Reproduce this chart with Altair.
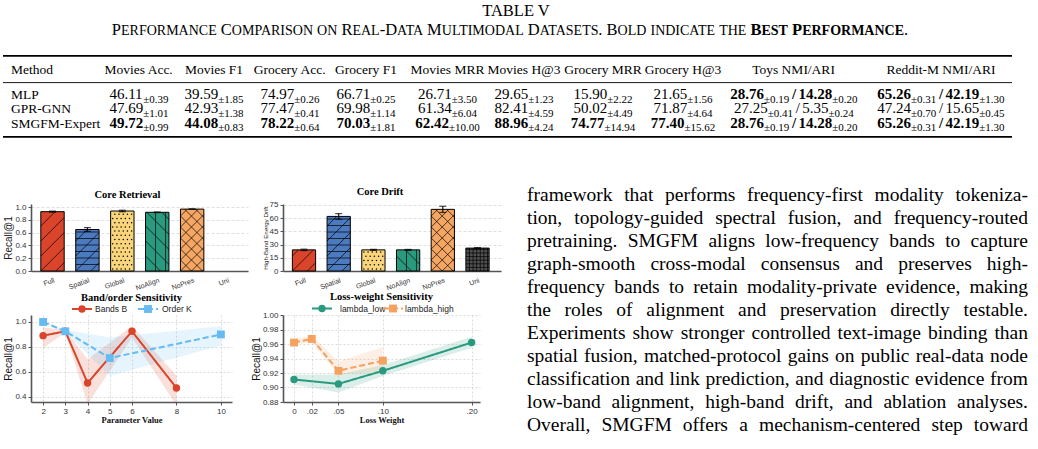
import math
import altair as alt
import pandas as pd

SERIF = "Liberation Serif"
SANS = "Liberation Sans"
PAGE_W = 1038
TABLE_H = 204

# ---------------------------------------------------------------- Table V
table_caption = "TABLE V"
table_subtitle = "Performance Comparison on Real-Data Multimodal Datasets. Bold indicate the "
table_subtitle_bold = "Best Performance"

methods = ["MLP", "GPR-GNN", "SMGFM-Expert"]
metric_cols = ["Movies Acc.", "Movies F1", "Grocery Acc.", "Grocery F1",
               "Movies MRR", "Movies H@3", "Grocery MRR", "Grocery H@3"]
cluster_cols = ["Toys NMI/ARI", "Reddit-M NMI/ARI"]

mlp_mean = [46.11, 39.59, 74.97, 66.71, 26.71, 29.65, 15.90, 21.65]
mlp_std = [0.39, 1.85, 0.26, 0.25, 3.50, 1.23, 2.22, 1.56]
gpr_mean = [47.69, 42.93, 77.47, 69.98, 61.34, 82.41, 50.02, 71.87]
gpr_std = [1.01, 1.38, 0.41, 1.14, 6.04, 4.59, 4.49, 4.64]
smg_mean = [49.72, 44.08, 78.22, 70.03, 62.42, 88.96, 74.77, 77.40]
smg_std = [0.99, 0.83, 0.64, 1.81, 10.00, 4.24, 14.94, 15.62]

# clustering cells: NMI, NMI std, ARI, ARI std
mlp_toys = [28.76, 0.19, 14.28, 0.20]
mlp_reddit = [65.26, 0.31, 42.19, 1.30]
gpr_toys = [27.25, 0.41, 5.35, 0.24]
gpr_reddit = [47.24, 0.70, 15.65, 0.45]
smg_toys = [28.76, 0.19, 14.28, 0.20]
smg_reddit = [65.26, 0.31, 42.19, 1.30]

# ---------------------------------------------------------------- bar panels
variants = ["Full", "Spatial", "Global", "NoAlign", "NoPres", "Uni"]
variant_colors = ["#d9442b", "#4c7abf", "#fad57c", "#2a9a7f", "#f5a663", "#505050"]
variant_hatch = ["/", "-/", ".", "\\|", "x", "+"]
retrieval_mean = [0.93, 0.65, 0.94, 0.92, 0.97, None]
retrieval_err = [0.008, 0.03, 0.012, 0.004, 0.003, None]
drift_mean = [24.0, 62.0, 24.0, 24.0, 70.0, 26.0]
drift_err = [0.8, 3.2, 0.6, 0.5, 3.5, 0.6]

# ---------------------------------------------------------------- sensitivity panels
bands_x = [2, 3, 4, 6, 8]
bands_recall = [0.89, 0.925, 0.51, 0.925, 0.47]
bands_lo = [0.79, 0.915, 0.34, 0.875, 0.33]
bands_hi = [0.955, 0.935, 0.70, 0.968, 0.57]
order_x = [2, 3, 5, 10]
order_recall = [1.0, 0.925, 0.71, 0.90]
order_lo = [0.995, 0.915, 0.565, 0.81]
order_hi = [1.0, 0.935, 0.875, 0.965]

low_w = [0.0, 0.05, 0.10, 0.20]
low_recall = [0.911, 0.905, 0.923, 0.962]
low_lo = [0.904, 0.893, 0.916, 0.955]
low_hi = [0.918, 0.918, 0.931, 0.970]
high_w = [0.0, 0.02, 0.05, 0.10]
high_recall = [0.962, 0.967, 0.923, 0.937]
high_lo = [0.959, 0.962, 0.918, 0.922]
high_hi = [0.966, 0.972, 0.936, 0.956]

# ---------------------------------------------------------------- body text
paragraph_lines = [
    "framework that performs frequency-first modality tokeniza-",
    "tion, topology-guided spectral fusion, and frequency-routed",
    "pretraining. SMGFM aligns low-frequency bands to capture",
    "graph-smooth cross-modal consensus and preserves high-",
    "frequency bands to retain modality-private evidence, making",
    "the roles of alignment and preservation directly testable.",
    "Experiments show stronger controlled text-image binding than",
    "spatial fusion, matched-protocol gains on public real-data node",
    "classification and link prediction, and diagnostic evidence from",
    "low-band alignment, high-band drift, and ablation analyses.",
    "Overall, SMGFM offers a mechanism-centered step toward",
]

# ---------------------------------------------------------------- text metrics
_LOWER = "abcdefghijklmnopqrstuvwxyz"
_UPPER = "ABCDEFGHIJKLMNOPQRSTUVWXYZ"
REG = dict(zip(_LOWER, [444, 500, 444, 500, 444, 333, 500, 500, 278, 278, 500, 278, 778,
                        500, 500, 500, 500, 333, 389, 278, 500, 500, 722, 500, 500, 444]))
REG.update(zip(_UPPER, [722, 667, 667, 722, 611, 556, 722, 722, 333, 389, 722, 611, 889,
                        722, 722, 556, 722, 667, 556, 611, 722, 722, 944, 722, 722, 611]))
BOLD = dict(zip(_LOWER, [500, 556, 444, 556, 444, 333, 500, 556, 278, 333, 556, 278, 833,
                         556, 500, 556, 556, 444, 389, 333, 556, 500, 722, 500, 500, 444]))
BOLD.update(zip(_UPPER, [722, 667, 722, 722, 667, 611, 778, 778, 389, 500, 778, 667, 944,
                         722, 778, 611, 778, 722, 556, 667, 722, 722, 1000, 722, 722, 667]))
for _t in (REG, BOLD):
    _t.update({d: 500 for d in "0123456789"})
    _t.update({" ": 250, ".": 250, ",": 250, "-": 333, "/": 278, ":": 278,
               "@": 921, "(": 333, ")": 333})
REG["±"] = 564
BOLD["±"] = 570
# pair kerning used by the browser for capitals (1/1000 em)
KERN = {"AT": -111, "TA": -93, "AV": -135, "VA": -135, "LT": -92, "PA": -92, "RT": -60}


def text_w(s, size, bold=False):
    t = BOLD if bold else REG
    w = sum(t.get(c, 500) for c in s)
    w += sum(KERN.get(s[i:i + 2], 0) for i in range(len(s) - 1))
    return w * size / 1000.0


# ---------------------------------------------------------------- table layout
CAP_SIZE, SC_SIZE = 16.5, 14.0
HEAD_SIZE = 13.5
NUM_SIZE, SUB_SIZE, SUB_DY = 15.0, 11.0, 3.5
SLASH_PAD = 2.5
col_x = [139, 214, 290, 366, 447.5, 524, 603, 683, 794, 941]
row_y = [99, 113.3, 127.7]
head_y = 73.5
rule_x = (3, 1012)
rules = [(55.8, 1.8), (82.6, 0.9), (136.9, 1.8)]

pieces = []


def place(runs, x, y, anchor="left"):
    """Lay runs of text side by side; runs are (text, size, bold, dy, [extra gap])."""
    def adv(run):
        return text_w(run[0], run[1], run[2]) + (run[4] if len(run) > 4 else 0.0)

    total = sum(adv(r) for r in runs)
    if anchor == "center":
        x -= total / 2
    for run in runs:
        t, s, b, dy = run[:4]
        pad = (run[4] if len(run) > 4 else 0.0) / 2
        body = t.strip(" ")
        if body:
            lead = len(t) - len(t.lstrip(" "))
            pieces.append({"text": body, "x": x + pad + text_w(t[:lead], s, b),
                           "y": y + dy, "size": s, "bold": b})
        x += adv(run)


def small_caps(text, bold):
    runs = []
    for ch in text:
        size = SC_SIZE if ch.islower() else CAP_SIZE
        if runs and runs[-1][1] == size:
            runs[-1] = (runs[-1][0] + ch.upper(), size, bold, 0)
        else:
            runs.append((ch.upper(), size, bold, 0))
    return runs


place([(table_caption, CAP_SIZE, False, 0)], 516, 16, "center")
place(small_caps(table_subtitle, False) + small_caps(table_subtitle_bold, True)
      + small_caps(".", False), 510, 35, "center")

place([("Method", HEAD_SIZE, False, 0)], 11, head_y)
for name, cx in zip(metric_cols + cluster_cols, col_x):
    place([(name, HEAD_SIZE, False, 0)], cx, head_y, "center")


def cell(mean, std, bold):
    return [(f"{mean:.2f}", NUM_SIZE, bold, 0), (f"±{std:.2f}", SUB_SIZE, False, SUB_DY)]


all_mean = [mlp_mean, gpr_mean, smg_mean]
all_std = [mlp_std, gpr_std, smg_std]
all_cluster = [[mlp_toys, mlp_reddit], [gpr_toys, gpr_reddit], [smg_toys, smg_reddit]]
best = [max(col) for col in zip(*all_mean)]
best_nmi = [max(r[j][0] for r in all_cluster) for j in range(2)]
best_ari = [max(r[j][2] for r in all_cluster) for j in range(2)]

for r, m in enumerate(methods):
    y = row_y[r]
    place([(m, HEAD_SIZE, False, 0)], 11, y)
    for j in range(len(metric_cols)):
        mu = all_mean[r][j]
        place(cell(mu, all_std[r][j], mu == best[j]), col_x[j], y, "center")
    for j, c in enumerate(all_cluster[r]):
        b1, b2 = c[0] == best_nmi[j], c[2] == best_ari[j]
        runs = (cell(c[0], c[1], b1) + [("/", NUM_SIZE, b1 and b2, 0, 2 * SLASH_PAD)]
                + cell(c[2], c[3], b2))
        place(runs, col_x[8 + j], y, "center")

pieces_df = pd.DataFrame(pieces)
rules_df = pd.DataFrame({"x0": [rule_x[0]] * 3, "x1": [rule_x[1]] * 3,
                         "y": [r[0] for r in rules], "w": [r[1] for r in rules]})

tx = alt.Scale(domain=[0, PAGE_W], nice=False, zero=False)
ty = alt.Scale(domain=[TABLE_H, 0], nice=False, zero=False)


def table_text(df, weight):
    return alt.Chart(df).mark_text(
        align="left", baseline="alphabetic", font=SERIF, fontWeight=weight, color="black"
    ).encode(
        x=alt.X("x:Q", scale=tx, axis=None),
        y=alt.Y("y:Q", scale=ty, axis=None),
        text="text:N",
        size=alt.Size("size:Q", scale=None, legend=None),
    )


table_rules = alt.Chart(rules_df).mark_rule(color="black").encode(
    x=alt.X("x0:Q", scale=tx, axis=None), x2="x1:Q",
    y=alt.Y("y:Q", scale=ty, axis=None),
    size=alt.Size("w:Q", scale=None, legend=None),
)
table_chart = alt.layer(
    table_rules,
    table_text(pieces_df[~pieces_df["bold"]], "normal"),
    table_text(pieces_df[pieces_df["bold"]], "bold"),
).properties(width=PAGE_W, height=TABLE_H)

# ---------------------------------------------------------------- grid geometry (px)
COL_W = [31, 217, 35, 218, 9]        # spacer, left panels, gap, right panels, gap
ROW_H = [67, 87]
ROW_GAP = 44
PARA_VIEW_X = sum(COL_W)
PARA_VIEW_Y = TABLE_H

# ---------------------------------------------------------------- body paragraph
PARA_SIZE, PARA_LEFT, PARA_RIGHT = 19.5, 527, 1028
PARA_BASE, PARA_LEAD = 201, 23

para_words = []
for k, line in enumerate(paragraph_lines):
    words = line.split(" ")
    widths = [text_w(w, PARA_SIZE) for w in words]
    gap = (PARA_RIGHT - PARA_LEFT - sum(widths)) / (len(words) - 1)
    x = PARA_LEFT
    for w, wd in zip(words, widths):
        para_words.append({"word": w, "x": x, "y": PARA_BASE + k * PARA_LEAD})
        x += wd + gap

para_chart = alt.Chart(pd.DataFrame(para_words)).mark_text(
    align="left", baseline="alphabetic", font=SERIF, fontSize=PARA_SIZE, color="black"
).encode(
    x=alt.X("x:Q", scale=alt.Scale(domain=[PARA_VIEW_X, PAGE_W], nice=False, zero=False), axis=None),
    y=alt.Y("y:Q", scale=alt.Scale(domain=[PARA_VIEW_Y + ROW_H[0], PARA_VIEW_Y], nice=False, zero=False), axis=None),
    text="word:N",
).properties(width=PAGE_W - PARA_VIEW_X, height=ROW_H[0])

# ---------------------------------------------------------------- bar panels
HALF = 0.335
HATCH_STEP = {"/": 15.0, "\\": 15.0, "x": 11.0, "-": 6.5, "|": 10.0, "+": 3.6, ".": 4.2}


def _diag(c, w, h, up):
    if up:  # v = u + c
        u0, u1 = max(0.0, -c), min(w, h - c)
        if u1 - u0 > 0.3:
            return (u0, u0 + c, u1, u1 + c)
    else:  # v = c - u
        u0, u1 = max(0.0, c - h), min(w, c)
        if u1 - u0 > 0.3:
            return (u0, c - u0, u1, c - u1)
    return None


def hatch_geometry(pattern, w, h):
    segs, dots = [], []
    for sym in pattern:
        p = HATCH_STEP[sym]
        if sym in "/x":
            k = math.floor(-w / p)
            while k * p < h:
                s = _diag(k * p, w, h, True)
                if s:
                    segs.append(s)
                k += 1
        if sym in "\\x":
            k = 1
            while k * p < w + h:
                s = _diag(k * p, w, h, False)
                if s:
                    segs.append(s)
                k += 1
        if sym in "-+":
            v = p
            while v < h - 0.5:
                segs.append((0.0, v, w, v))
                v += p
        if sym in "|+":
            u = p
            while u < w - 0.5:
                segs.append((u, 0.0, u, h))
                u += p
        if sym == ".":
            j = 0
            while (j + 0.5) * p < h:
                u = (0.5 + 0.5 * (j % 2)) * p
                while u < w - 0.8:
                    dots.append((u, (j + 0.5) * p))
                    u += p
                j += 1
    return segs, dots


def bar_axis_x():
    expr = "[" + ",".join(f"'{n}'" for n in variants) + "][datum.value]"
    return alt.Axis(values=list(range(len(variants))), labelExpr=expr, title=None,
                    labelAngle=-20, labelAlign="right", labelBaseline="top",
                    labelFont=SANS, labelFontSize=7, labelColor="#333", labelPadding=5,
                    labelFlush=False, labelOverlap=False, ticks=False, grid=False,
                    domainColor="#555", domainWidth=1.6)


def bar_panel(means, errs, xdom, ydom, yticks, yfmt, width, height,
              ytitle, ytitle_size, title, title_dx):
    kx = width / (xdom[1] - xdom[0])
    ky = height / (ydom[1] - ydom[0])
    rows, segs, dots = [], [], []
    for i, (name, m, e, hp) in enumerate(zip(variants, means, errs, variant_hatch)):
        if m is None:
            continue
        lo, hi = i - HALF, i + HALF
        rows.append({"name": name, "lo": lo, "hi": hi, "mid": i, "v": m,
                     "top": m + e, "bot": m - e})
        s, d = hatch_geometry(hp, (hi - lo) * kx, (m - ydom[0]) * ky)
        for u0, v0, u1, v1 in s:
            segs.append({"x": lo + u0 / kx, "y": ydom[0] + v0 / ky,
                         "x2": lo + u1 / kx, "y2": ydom[0] + v1 / ky})
        for u, v in d:
            dots.append({"x": lo + u / kx, "y": ydom[0] + v / ky})

    xs = alt.Scale(domain=xdom, nice=False, zero=False)
    ys = alt.Scale(domain=ydom, nice=False, zero=False)
    xax = bar_axis_x()
    yax = alt.Axis(values=yticks, format=yfmt, title=ytitle, labelFont=SANS,
                   labelFontSize=8, labelColor="#333", labelPadding=2, tickSize=3,
                   tickColor="#555", domainColor="#555", domainWidth=1.6, grid=True,
                   gridDash=[3, 2], gridColor="#d2d2d2", gridWidth=0.7,
                   titleFont=SANS, titleFontSize=ytitle_size, titleFontWeight="normal",
                   titleColor="#222", titlePadding=1)

    def X(f):
        return alt.X(f"{f}:Q", scale=xs, axis=xax)

    def Y(f):
        return alt.Y(f"{f}:Q", scale=ys, axis=yax)

    df = pd.DataFrame(rows)
    bars = alt.Chart(df).mark_bar(stroke="black", strokeWidth=1).encode(
        x=X("lo"), x2="hi:Q", y=Y("v"), y2=alt.datum(0),
        color=alt.Color("name:N", scale=alt.Scale(domain=variants, range=variant_colors), legend=None),
    )
    hatch = alt.Chart(pd.DataFrame(segs)).mark_rule(color="black", strokeWidth=0.7).encode(
        x=X("x"), y=Y("y"), x2="x2:Q", y2="y2:Q")
    layers = [bars, hatch]
    if dots:
        layers.append(alt.Chart(pd.DataFrame(dots)).mark_point(
            filled=True, size=2.2, color="black", opacity=1, strokeWidth=0).encode(x=X("x"), y=Y("y")))
    layers.append(alt.Chart(df).mark_rule(color="black", strokeWidth=1.1).encode(
        x=X("mid"), y=Y("bot"), y2="top:Q"))
    for f in ("top", "bot"):
        layers.append(alt.Chart(df).mark_tick(orient="horizontal", size=7, thickness=1.2,
                                              color="black").encode(x=X("mid"), y=Y(f)))
    return alt.layer(*layers).properties(
        width=width, height=height,
        title=alt.TitleParams(title, font=SERIF, fontSize=10.5, fontWeight="bold",
                              anchor="middle", frame="group", offset=3, dx=title_dx,
                              color="black"),
    )


core_retrieval = bar_panel(retrieval_mean, retrieval_err, [-0.616, 5.6], [0.0, 1.05],
                           [0, 0.2, 0.4, 0.6, 0.8, 1.0], ".1f", COL_W[1], ROW_H[0],
                           "Recall@1", 10, "Core Retrieval", -12)
core_drift = bar_panel(drift_mean, drift_err, [-0.605, 5.677], [0.0, 76.1],
                       [0, 15, 30, 45, 60, 75], "d", COL_W[3], ROW_H[0],
                       "High-Band Energy Drift", 6.2, "Core Drift", -12)

# ---------------------------------------------------------------- line panels


def line_axis(**kw):
    base = dict(labelFont=SANS, labelFontSize=8, labelColor="#333", tickColor="#555",
                tickSize=3, labelPadding=2, domainColor="#555", domainWidth=1.6,
                grid=True, gridColor="#cccccc", gridDash=[2, 2], gridWidth=0.7,
                titleColor="#111", labelFlush=False, labelOverlap=False)
    base.update(kw)
    return alt.Axis(**base)


def line_panel(series, xdom, ydom, width, height, xticks, xexpr, yticks, yfmt,
               xtitle, title, legend):
    xs = alt.Scale(domain=xdom, nice=False, zero=False)
    ys = alt.Scale(domain=ydom, nice=False, zero=False)
    xkw = dict(values=xticks, title=xtitle, titleFont=SERIF, titleFontWeight="bold",
               titleFontSize=8.5, titlePadding=0)
    if xexpr:
        xkw["labelExpr"] = xexpr
    xax = line_axis(**xkw)
    yax = line_axis(values=yticks, format=yfmt, title="Recall@1", titleFont=SANS,
                    titleFontSize=10, titleFontWeight="normal", titlePadding=1)

    def X(f):
        return alt.X(f"{f}:Q", scale=xs, axis=xax)

    def Y(f):
        return alt.Y(f"{f}:Q", scale=ys, axis=yax)

    layers = []
    for s in series:
        base = alt.Chart(pd.DataFrame({"x": s["x"], "y": s["y"], "lo": s["lo"], "hi": s["hi"]}))
        layers.append(base.mark_area(color=s["color"], opacity=0.17, clip=True).encode(
            x=X("x"), y=Y("lo"), y2="hi:Q"))
    for s in series:
        base = alt.Chart(pd.DataFrame({"x": s["x"], "y": s["y"]}))
        layers.append(base.mark_line(color=s["color"], strokeWidth=2,
                                     strokeDash=s["dash"], clip=True).encode(x=X("x"), y=Y("y")))
        layers.append(base.mark_point(shape=s["shape"], filled=True, size=s["msize"],
                                      color=s["color"], opacity=1, strokeWidth=0).encode(
            x=X("x"), y=Y("y")))
    # legend row above the plot
    one = alt.Chart(pd.DataFrame({"k": [0]}))
    ly = legend["y"]
    for s, (x0, x1, xm, xt) in zip(series, legend["slots"]):
        layers.append(one.mark_rule(color=s["color"], strokeWidth=2, strokeDash=s["dash"]).encode(
            x=alt.value(x0), x2=alt.value(x1), y=alt.value(ly)))
        layers.append(one.mark_point(shape=s["shape"], filled=True, size=s["msize"],
                                     color=s["color"], opacity=1, strokeWidth=0).encode(
            x=alt.value(xm), y=alt.value(ly)))
        layers.append(one.mark_text(align="left", baseline="middle", font=SANS, fontSize=8.5,
                                    color="#222").encode(
            x=alt.value(xt), y=alt.value(ly), text=alt.value(s["label"])))
    return alt.layer(*layers).properties(
        width=width, height=height,
        title=alt.TitleParams(title, font=SERIF, fontSize=10.5, fontWeight="bold",
                              anchor="middle", frame="group", offset=2, color="black"),
    )


RED, BLUE, TEAL, ORANGE = "#d9452b", "#66bbf2", "#2a9a7f", "#f5a261"
band_order = line_panel(
    [dict(x=bands_x, y=bands_recall, lo=bands_lo, hi=bands_hi, color=RED, dash=[1, 0],
          shape="circle", msize=55, label="Bands B"),
     dict(x=order_x, y=order_recall, lo=order_lo, hi=order_hi, color=BLUE, dash=[6, 3],
          shape="square", msize=62, label="Order K")],
    [1.455, 10.5], [0.357, 1.056], 201, ROW_H[1], [2, 3, 4, 5, 6, 8, 10], None,
    [0.4, 0.6, 0.8, 1.0], ".1f", "Parameter Value", "Band/order Sensitivity",
    {"y": -6, "slots": [(41, 61, 51, 64), (107, 127, 117, 131)]},
)
loss_weight = line_panel(
    [dict(x=low_w, y=low_recall, lo=low_lo, hi=low_hi, color=TEAL, dash=[1, 0],
          shape="circle", msize=55, label="lambda_low"),
     dict(x=high_w, y=high_recall, lo=high_lo, hi=high_hi, color=ORANGE, dash=[6, 3],
          shape="square", msize=62, label="lambda_high")],
    [-0.0124, 0.2094], [0.88, 1.0], 197, ROW_H[1], [0, 0.02, 0.05, 0.10, 0.20],
    "datum.value == 0 ? '0' : substring(format(datum.value, '.2f'), 1)",
    [0.88, 0.90, 0.92, 0.94, 0.96, 0.98, 1.00], ".2f", "Loss Weight",
    "Loss-weight Sensitivity",
    {"y": -6.5, "slots": [(29, 49, 39, 57), (100, 120, 110, 122)]},
)

# ---------------------------------------------------------------- page layout


def spacer(w, h):
    return alt.Chart(pd.DataFrame({"s": [0]})).mark_point(opacity=0).properties(width=w, height=h)


panels = alt.concat(
    spacer(COL_W[0], ROW_H[0]), core_retrieval, spacer(COL_W[2], ROW_H[0]), core_drift,
    spacer(COL_W[4], ROW_H[0]), para_chart,
    spacer(COL_W[0], ROW_H[1]), band_order, spacer(COL_W[2], ROW_H[1]), loss_weight,
    columns=6, align="each", bounds="flush", spacing={"row": ROW_GAP, "column": 0},
)

chart = alt.vconcat(table_chart, panels, spacing=0, bounds="flush").properties(
    padding=0, background="white"
).configure_view(stroke=None)

chart.save("out.html", embed_options={"renderer": "svg", "actions": False})
